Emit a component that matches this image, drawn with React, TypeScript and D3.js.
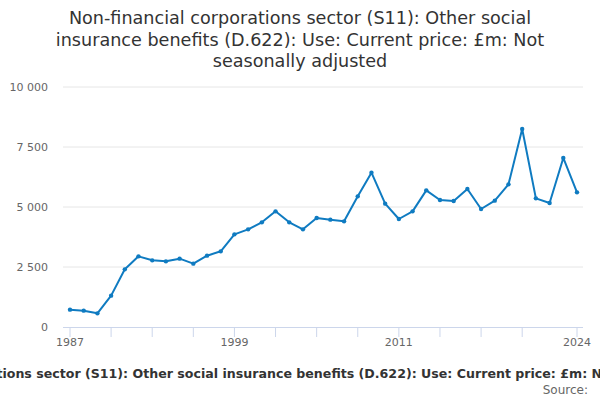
import React from "react";
import * as d3 from "d3";

const years: number[] = d3.range(1987, 2025);
const values: number[] = [
  722, 681, 569, 1306, 2403, 2944, 2778, 2736, 2847, 2639,
  2972, 3153, 3861, 4069, 4361, 4819, 4361, 4069, 4542, 4472,
  4403, 5444, 6431, 5139, 4500, 4819, 5694, 5292, 5250, 5750,
  4917, 5264, 5944, 8250, 5361, 5167, 7042, 5611,
];
const yTicks: number[] = [0, 2500, 5000, 7500, 10000];
const xTickYears: number[] = [1987, 1990, 1993, 1996, 1999, 2002, 2005, 2008, 2011, 2014, 2017, 2020, 2024];
const xLabelYears: number[] = [1987, 1999, 2011, 2024];
const titleLines: string[] = [
  "Non-financial corporations sector (S11): Other social",
  "insurance benefits (D.622): Use: Current price: £m: Not",
  "seasonally adjusted",
];
const fullTitle =
  "Non-financial corporations sector (S11): Other social insurance benefits (D.622): Use: Current price: £m: Not seasonally adjusted";

const fmt = (v: number) => d3.format(",")(v).replace(",", " ");

export default function App() {
  const W = 600, H = 400;
  const plotLeft = 63, plotRight = 583, plotTop = 87, plotBottom = 327;
  const x = d3.scaleLinear().domain([1987, 2024]).range([70, 577]);
  const y = d3.scaleLinear().domain([0, 10000]).range([plotBottom, plotTop]);
  const line = d3.line<number>().x((_, i) => x(years[i])).y((d) => y(d));
  const font = "DejaVu Sans, sans-serif";
  return (
    <svg width={W} height={H} style={{ position: "absolute", left: 0, top: 0, background: "#fff" }} fontFamily={font}>
      {titleLines.map((t, i) => (
        <text key={i} x={300} y={24 + i * 21.5} textAnchor="middle" fontSize={17.6} fill="#333">{t}</text>
      ))}
      {yTicks.map((t) => (
        <g key={t}>
          {t > 0 && <line x1={plotLeft} x2={plotRight} y1={y(t)} y2={y(t)} stroke="#e6e6e6" strokeWidth={1} />}
          <text x={48} y={y(t) + 4} textAnchor="end" fontSize={11} fill="#666">{fmt(t)}</text>
        </g>
      ))}
      <line x1={plotLeft} x2={plotRight} y1={plotBottom + 0.5} y2={plotBottom + 0.5} stroke="#ccd6eb" strokeWidth={1} />
      {xTickYears.map((yr) => (
        <line key={yr} x1={x(yr)} x2={x(yr)} y1={plotBottom} y2={plotBottom + 10} stroke="#ccd6eb" strokeWidth={1} />
      ))}
      {xLabelYears.map((yr) => (
        <text key={yr} x={x(yr)} y={346} textAnchor="middle" fontSize={11} fill="#666">{yr}</text>
      ))}
      <path d={line(values) ?? ""} fill="none" stroke="#0f7bc1" strokeWidth={2} strokeLinejoin="round" />
      {values.map((v, i) => (
        <circle key={i} cx={x(years[i])} cy={y(v)} r={2.2} fill="#0f7bc1" />
      ))}
      <text x={303} y={378} textAnchor="middle" fontSize={12.6} fontWeight="bold" fill="#333">{fullTitle}</text>
      <text x={588} y={394} textAnchor="end" fontSize={12} fill="#666">Source:</text>
    </svg>
  );
}
